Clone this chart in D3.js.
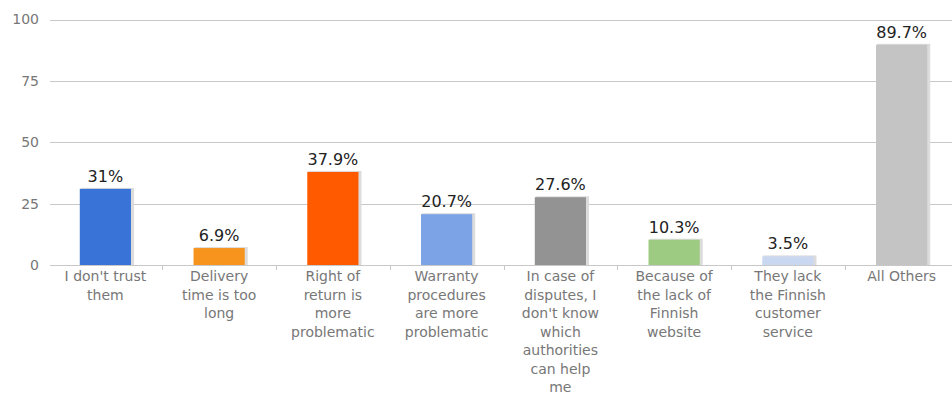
<!DOCTYPE html>
<html><head><meta charset="utf-8">
<script src="https://cdn.jsdelivr.net/npm/d3@7"></script>
<style>body{margin:0;background:#fff}svg{display:block}</style>
</head><body><div id="chart"></div>
<script>
const categories = [
  ["I don't trust","them"],
  ["Delivery","time is too","long"],
  ["Right of","return is","more","problematic"],
  ["Warranty","procedures","are more","problematic"],
  ["In case of","disputes, I","don't know","which","authorities","can help","me"],
  ["Because of","the lack of","Finnish","website"],
  ["They lack","the Finnish","customer","service"],
  ["All Others"]
];
const values = [31, 6.9, 37.9, 20.7, 27.6, 10.3, 3.5, 89.7];
const valueLabels = ["31%","6.9%","37.9%","20.7%","27.6%","10.3%","3.5%","89.7%"];
const colors = ["#3a73d8","#f7941d","#ff5a00","#7ba3e6","#939393","#9ccb81","#c9d7f1","#c4c4c4"];
const yTicks = [0,25,50,75,100];

const W = 952, H = 394;
const svg = d3.select("#chart").append("svg").attr("width", W).attr("height", H);
const font = "DejaVu Sans, sans-serif";

const x = d3.scaleBand().domain(d3.range(categories.length)).range([48.5, 958.5]).paddingInner(0.55).paddingOuter(0.275);
const y = d3.scaleLinear().domain([0,100]).range([265, 19.5]);

// gridlines
svg.append("g").selectAll("line").data(yTicks.filter(d=>d>0)).join("line")
  .attr("x1", 50).attr("x2", W).attr("y1", d=>Math.round(y(d))+0.5).attr("y2", d=>Math.round(y(d))+0.5)
  .attr("stroke", "#c8c8c8").attr("stroke-width", 1);

// y labels
svg.append("g").selectAll("text").data(yTicks).join("text")
  .attr("x", 39).attr("y", d=>y(d)).attr("dy","0.35em").attr("text-anchor","end")
  .attr("font-family", font).attr("font-size", 14).attr("fill", "#777").text(d=>d);

// baseline
svg.append("line").attr("x1",50).attr("x2",W).attr("y1",265.5).attr("y2",265.5).attr("stroke","#c8c8c8");
// tick separators
svg.append("g").selectAll("line").data(d3.range(1, categories.length)).join("line")
  .attr("x1", i => Math.round(x(i) - x.step()*x.paddingInner()/2)+0.5)
  .attr("x2", i => Math.round(x(i) - x.step()*x.paddingInner()/2)+0.5)
  .attr("y1", 265).attr("y2", 270).attr("stroke","#c8c8c8");

// bar shadows
svg.append("g").selectAll("rect").data(values).join("rect")
  .attr("x", (d,i)=>x(i)+1).attr("y", d=>y(d)-1).attr("width", x.bandwidth()+2).attr("height", d=>y(0)-y(d)+1)
  .attr("fill", "#dcdcdc");
// bars
svg.append("g").selectAll("rect").data(values).join("rect")
  .attr("x", (d,i)=>x(i)).attr("y", d=>y(d)).attr("width", x.bandwidth()).attr("height", d=>y(0)-y(d))
  .attr("fill", (d,i)=>colors[i]);

// value labels
svg.append("g").selectAll("text").data(values).join("text")
  .attr("x", (d,i)=>x(i)+x.bandwidth()/2).attr("y", d=>y(d)-7).attr("text-anchor","middle")
  .attr("font-family", font).attr("font-size", 16).attr("fill", "#222").text((d,i)=>valueLabels[i]);

// category labels
const cg = svg.append("g").selectAll("text").data(categories).join("text")
  .attr("x", (d,i)=>x(i)+x.bandwidth()/2).attr("y", 281).attr("text-anchor","middle")
  .attr("font-family", font).attr("font-size", 14).attr("fill", "#777");
cg.selectAll("tspan").data(d=>d).join("tspan")
  .attr("x", function(){ return this.parentNode.getAttribute("x"); })
  .attr("dy", (d,j)=> j===0 ? 0 : 18.5).text(d=>d);
</script></body></html>
